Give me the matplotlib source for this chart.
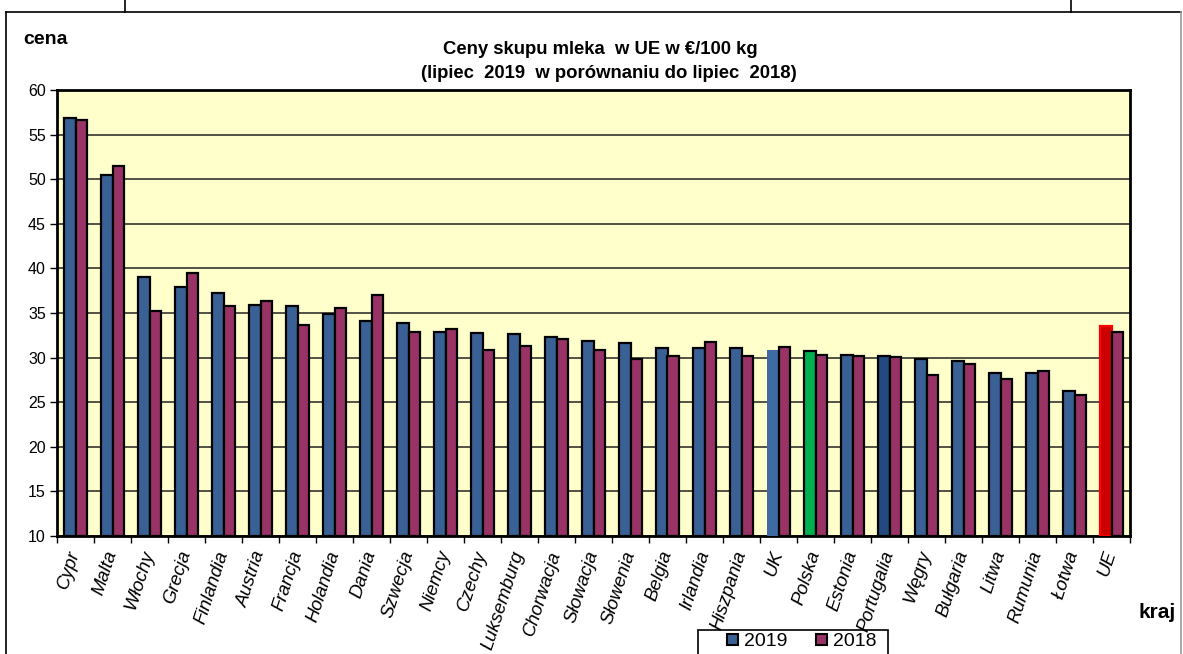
import numpy as np
import matplotlib
matplotlib.use("Agg")
import matplotlib.pyplot as plt
from matplotlib.patches import Patch, Rectangle
from matplotlib.lines import Line2D

plt.rcParams['font.family'] = ['Liberation Sans', 'DejaVu Sans']

kraje = ["Cypr", "Malta", "Włochy", "Grecja", "Finlandia", "Austria", "Francja",
         "Holandia", "Dania", "Szwecja", "Niemcy", "Czechy", "Luksemburg",
         "Chorwacja", "Słowacja", "Słowenia", "Belgia", "Irlandia", "Hiszpania",
         "UK", "Polska", "Estonia", "Portugalia", "Węgry", "Bułgaria", "Litwa",
         "Rumunia", "Łotwa", "UE"]
ceny_2019 = [56.9, 50.5, 39.0, 37.9, 37.2, 35.9, 35.75, 34.85, 34.05, 33.9,
             32.9, 32.75, 32.6, 32.35, 31.9, 31.6, 31.05, 31.05, 31.05,
             30.85, 30.75, 30.3, 30.15, 29.8, 29.6, 28.3, 28.3, 26.2, 33.55]
ceny_2018 = [56.6, 51.5, 35.2, 39.5, 35.75, 36.35, 33.6, 35.6, 37.0, 32.9,
             33.2, 30.8, 31.35, 32.1, 30.8, 29.85, 30.2, 31.75, 30.2,
             31.2, 30.3, 30.2, 30.05, 28.05, 29.3, 27.6, 28.45, 25.8, 32.9]
serie = ["2019", "2018"]

c19 = "#3A6195"
c18 = "#993366"
# wyróżnione słupki 2019
kolory19 = [c19] * len(kraje)
krawedz19 = ["black"] * len(kraje)
kolory19[kraje.index("UK")] = "#3F6AA3"
krawedz19[kraje.index("UK")] = "none"
kolory19[kraje.index("Polska")] = "#00B050"
kolory19[kraje.index("Portugalia")] = "#224A7E"
kolory19[kraje.index("UE")] = "#CC0000"
krawedz19[kraje.index("UE")] = "#FF0000"

W, H = 1183, 654
fig = plt.figure(figsize=(W/100, H/100), dpi=100)
ax = fig.add_axes([57/W, 1-536/H, (1130-57)/W, (536-90)/H])
ax.set_facecolor("#FFFFCC")

x = np.arange(len(kraje))
w = 0.3
ax.bar(x - w/2, np.array(ceny_2019) - 10, w, bottom=10, color=kolory19,
       edgecolor=krawedz19, linewidth=1.6, zorder=3)
ax.bar(x + w/2, np.array(ceny_2018) - 10, w, bottom=10, color=c18,
       edgecolor="black", linewidth=1.6, zorder=3)

ax.set_ylim(10, 60)
ax.set_xlim(-0.5, len(kraje) - 0.5)
ax.set_yticks(np.arange(10, 61, 5))
ax.yaxis.grid(True, color="#222222", linewidth=1.1, zorder=1)
ax.tick_params(axis="y", labelsize=11.5, length=5, width=1, direction="out", pad=3)

ax.set_xticks(np.arange(-0.5, len(kraje), 1))
ax.set_xticklabels([])
ax.tick_params(axis="x", length=5, width=1, direction="out")
ax.set_xticks(x, minor=True)
ax.set_xticklabels(kraje, minor=True, rotation=72, ha="right", va="center",
                   rotation_mode="anchor", fontsize=13.5, style="italic")
ax.tick_params(axis="x", which="minor", length=0, pad=11)
for s in ax.spines.values():
    s.set_linewidth(2)

fig.text(600/W, 1-50/H, "Ceny skupu mleka  w UE w €/100 kg",
         ha="center", va="center", fontsize=13.3, fontweight="bold")
fig.text(609/W, 1-73/H, "(lipiec  2019  w porównaniu do lipiec  2018)",
         ha="center", va="center", fontsize=13.3, fontweight="bold")
fig.text(23/W, 1-39/H, "cena", ha="left", va="center", fontsize=14,
         fontweight="bold")
fig.text(1139/W, 1-612/H, "kraj", ha="left", va="center", fontsize=15,
         fontweight="bold")

uchwyty = [Patch(facecolor=c19, edgecolor="black", linewidth=1.5),
           Patch(facecolor=c18, edgecolor="black", linewidth=1.5)]
leg = fig.legend(uchwyty, serie, loc="center left",
                 bbox_to_anchor=(727/W, 1-642/H), ncol=2, fontsize=14,
                 frameon=False, handlelength=0.55, handleheight=0.55,
                 handletextpad=0.3, columnspacing=1.5, borderpad=0,
                 borderaxespad=0)
fig.add_artist(Rectangle((698/W, -0.05), 190/W, 0.05 + 1-630/H,
                         transform=fig.transFigure, fill=False,
                         edgecolor="black", linewidth=1.2))

# ramka wykresu i fragment tabeli nad nim
fig.add_artist(Line2D([6/W, 1181/W], [1-12/H, 1-12/H], color="black", lw=1.2))
fig.add_artist(Line2D([6/W, 6/W], [0, 1-12/H], color="black", lw=1.2))
fig.add_artist(Line2D([1181/W, 1181/W], [0, 1-12/H], color="#999999", lw=1.2))
fig.add_artist(Line2D([125/W, 125/W], [1-12/H, 1], color="black", lw=1.2))
fig.add_artist(Line2D([1071/W, 1071/W], [1-12/H, 1], color="black", lw=1.2))

fig.savefig("out.png", dpi=100)
